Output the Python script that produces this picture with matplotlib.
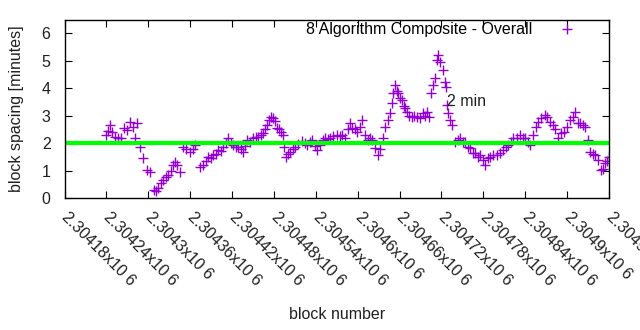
import matplotlib
matplotlib.use('Agg')
import matplotlib.pyplot as plt
import numpy as np

# block number offsets (from 2304000) and block spacing in minutes
block_off = [239, 242, 245, 248, 252, 257, 261, 265, 270, 274, 278, 281, 284, 288, 292, 298,
             302, 308, 311, 314, 318, 321, 325, 328, 333, 335, 338, 341, 345, 350, 354, 360,
             364, 367, 374, 378, 383, 386, 390, 393, 397, 400, 404, 407, 411, 414, 418, 421,
             426, 428, 433, 436, 439, 441, 446, 450, 454, 457, 461, 464, 467, 470, 473, 476,
             479, 482, 484, 487, 490, 493, 494, 497, 500, 503, 507, 510, 514, 520, 524, 527,
             532, 534, 539, 542, 546, 550, 553, 557, 560, 565, 570, 575, 577, 582, 586, 589,
             592, 596, 599, 603, 606, 610, 615, 618, 620, 625, 629, 632, 636, 639, 643, 646,
             649, 651, 653, 656, 658, 661, 663, 666, 668, 671, 673, 678, 681, 685, 689, 694,
             696, 699, 702, 705, 708, 711, 714, 715, 718, 722, 725, 727, 728, 729, 732, 735,
             739, 744, 747, 751, 754, 758, 761, 765, 768, 772, 775, 780, 782, 787, 790, 794,
             800, 804, 808, 812, 815, 820, 822, 828, 832, 837, 840, 844, 847, 851, 855, 858,
             863, 868, 871, 875, 880, 883, 887, 891, 896, 900, 904, 908, 911, 916, 918, 923,
             926, 930, 933, 937, 940, 944, 949, 951, 954, 957, 960]
spacing = [2.30, 2.45, 2.66, 2.40, 2.23, 2.17, 2.20, 2.54, 2.48, 2.78, 2.60, 2.17, 2.72, 1.87, 1.45, 1.02,
           0.96, 0.29, 0.27, 0.35, 0.55, 0.66, 0.75, 0.84, 1.00, 1.20, 1.30, 1.20, 0.96, 1.87, 1.80, 1.69,
           1.80, 1.93, 1.14, 1.20, 1.35, 1.50, 1.45, 1.57, 1.62, 1.75, 1.70, 1.87, 2.00, 2.17, 2.00, 1.93,
           1.87, 1.87, 1.80, 1.69, 1.90, 2.11, 2.05, 2.17, 2.23, 2.23, 2.30, 2.35, 2.50, 2.66, 2.84, 2.96,
           2.90, 2.80, 2.54, 2.50, 2.42, 2.30, 1.87, 1.50, 1.60, 1.69, 1.80, 1.87, 1.95, 2.08, 2.00, 1.93,
           2.05, 2.11, 1.90, 1.75, 1.93, 2.10, 2.17, 2.15, 2.17, 2.25, 2.30, 2.25, 2.30, 2.17, 2.50, 2.72,
           2.54, 2.50, 2.42, 2.60, 2.84, 2.30, 2.11, 2.20, 2.11, 1.81, 1.57, 1.80, 2.17, 2.60, 2.84, 3.10,
           3.45, 3.81, 4.12, 3.90, 3.81, 3.65, 3.57, 3.35, 3.27, 3.14, 3.00, 2.96, 2.98, 2.96, 2.90, 3.09,
           3.00, 3.14, 2.95, 3.81, 4.12, 4.36, 5.03, 5.21, 4.97, 4.66, 4.24, 4.05, 3.39, 3.09, 2.84, 2.66,
           2.05, 2.10, 2.20, 2.05, 2.05, 1.87, 1.81, 1.63, 1.63, 1.50, 1.55, 1.38, 1.20, 1.45, 1.50, 1.57,
           1.57, 1.63, 1.75, 1.85, 1.93, 2.05, 2.17, 2.20, 2.30, 2.20, 2.17, 2.05, 1.93, 2.30, 2.60, 2.75,
           2.90, 3.02, 2.95, 2.78, 2.65, 2.50, 2.20, 2.36, 2.42, 2.60, 2.84, 2.96, 3.14, 2.72, 2.72, 2.66,
           2.60, 2.11, 1.69, 1.60, 1.57, 1.40, 1.02, 1.05, 1.26, 1.35, 1.50]
blocks = 2304000 + np.array(block_off)

target = 2.0
xticks = np.arange(2304180, 2304961, 60)
xticklabels = ['2.30418x10 6', '2.30424x10 6', '2.3043x10 6', '2.30436x10 6', '2.30442x10 6',
               '2.30448x10 6', '2.30454x10 6', '2.3046x10 6', '2.30466x10 6', '2.30472x10 6',
               '2.30478x10 6', '2.30484x10 6', '2.3049x10 6', '2.30496x10 6']

plt.rcParams['font.family'] = ['Liberation Sans', 'DejaVu Sans']
plt.rcParams['font.size'] = 11.5

fig = plt.figure(figsize=(6.4, 3.3), dpi=100)
ax = fig.add_axes([0.1008, 0.4, 0.8508, 0.5409])

ax.plot(blocks, spacing, linestyle='none', marker='+', color='#9400d3',
        markersize=7, markeredgewidth=1.0, label='8 Algorithm Composite - Overall')
ax.axhline(target, xmin=0.004, xmax=0.996, color='#00ff00', linewidth=3)
ax.text(2304728, 3.53, '2 min', ha='left', va='center', color='#202020')

ax.set_xlim(2304180, 2304960)
ax.set_ylim(0, 6.5)
ax.set_yticks(range(0, 7))
ax.set_xticks(xticks)
ax.set_xticklabels(xticklabels, rotation=-45, ha='left', va='center', rotation_mode='anchor')
ax.tick_params(direction='in', top=True, right=True, length=5, width=0.8, colors='black')
ax.tick_params(axis='y', pad=10)
ax.tick_params(axis='x', pad=12)
for lab in ax.get_xticklabels() + ax.get_yticklabels():
    lab.set_color('#202020')
for s in ax.spines.values():
    s.set_linewidth(1.0)

ax.set_ylabel('block spacing [minutes]', color='#202020', va='center')
ax.yaxis.set_label_coords(-0.088, 0.5)
ax.set_xlabel('block number', color='#202020', va='center')
ax.xaxis.set_label_coords(0.5, -0.655)

ax.legend(loc='upper right', bbox_to_anchor=(0.9596, 0.985), frameon=False, markerfirst=False,
          numpoints=1, handlelength=2.5, handletextpad=0.9, borderpad=0, borderaxespad=0)

fig.savefig('out.png', dpi=100)
